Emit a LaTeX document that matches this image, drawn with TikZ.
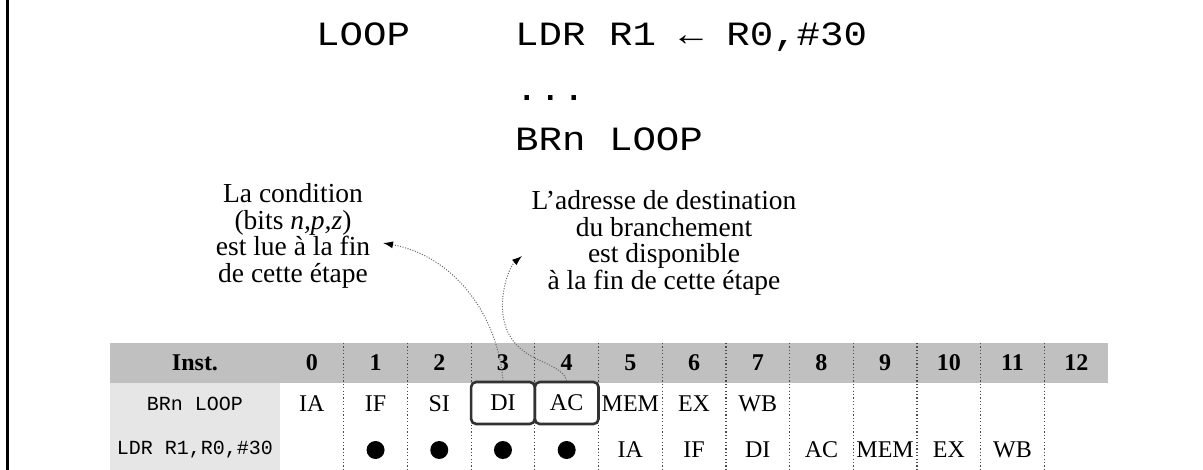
\documentclass[tikz,border=0pt]{standalone}
\usepackage{fontspec}
\setmainfont{Liberation Serif}
\newfontfamily\codefont[FakeStretch=1.15]{Liberation Mono}
\newfontfamily\smallcode{Liberation Mono}
\usetikzlibrary{arrows.meta}
\definecolor{hdrgray}{RGB}{192,192,192}
\definecolor{lblgray}{RGB}{230,230,230}
\definecolor{boxgray}{RGB}{50,50,50}
\newcommand\mynotefont{\fontsize{27.5}{26.7}\selectfont\setlength{\lineskiplimit}{-20pt}}
\tikzset{
  code/.style={anchor=base west,inner sep=0pt,font=\codefont\fontsize{34}{40}\selectfont},
  note/.style={align=center,inner sep=0pt,font=\mynotefont},
  hdr/.style={inner sep=0pt,font=\bfseries\fontsize{24}{26}\selectfont},
  cell/.style={inner sep=0pt,font=\fontsize{24}{26}\selectfont},
  lbl/.style={inner sep=0pt,font=\smallcode\fontsize{20}{22}\selectfont},
  stagebox/.style={draw=boxgray,line width=2.6pt,rounded corners=5pt,minimum width=63.7pt,minimum height=42pt,inner sep=0pt,font=\fontsize{24}{26}\selectfont},
  dotmark/.style={circle,fill=black,minimum size=18pt,inner sep=0pt},
  sepline/.style={black!70,line width=1.2pt,dash pattern=on 1.2pt off 2.2pt},
  curvearrow/.style={black!60,line width=1pt,dash pattern=on 1pt off 1.6pt,-{Latex[length=10pt,width=7pt,black]}}
}
\begin{document}
\begin{tikzpicture}[x=1pt,y=-1pt]
\useasboundingbox (0,0) rectangle (1203,470);
\fill[white] (0,0) rectangle (1203,470);
% left rule
\fill[black] (6,0) rectangle (8.5,470);
% code listing
\node[code] (lbl) at (316,46) {LOOP};
\node[code] (i1) at (515,46) {LDR R1 ← R0,\#30};
\node[code] (i2) at (515,101) {...};
\node[code] (i3) at (515,151) {BRn LOOP};
% notes
\node[note] (n1) at (293,236) {La condition\\(bits \textit{n,p,z})\\est lue à la fin\\de cette étape};
\node[note] (n2) at (664,243) {L’adresse de destination\\du branchement\\est disponible\\à la fin de cette étape};
% table backgrounds
\fill[hdrgray] (110,343) rectangle (1108,383);
\fill[lblgray] (110,383) rectangle (280,470);
% separators
\foreach \k in {1,...,12}
  \draw[sepline] ({280+63.7*\k},343) -- ({280+63.7*\k},470);
% header
\node[hdr] (hinst) at (195,363) {Inst.};
\foreach \k in {0,...,12}
  \node[hdr] (h\k) at ({280+63.7*(\k+0.5)},363) {\k};
% row labels
\node[lbl] (l1) at (195,404) {BRn LOOP};
\node[lbl] (l2) at (195,450) {LDR R1,R0,\#30};
% row 1
\node[cell] (a0) at ({280+63.7*0.5},404) {IA};
\node[cell] (a1) at ({280+63.7*1.5},404) {IF};
\node[cell] (a2) at ({280+63.7*2.5},404) {SI};
\node[stagebox] (a3) at ({280+63.7*3.5},403) {DI};
\node[stagebox] (a4) at ({280+63.7*4.5},403) {AC};
\node[cell] (a5) at ({280+63.7*5.5},404) {MEM};
\node[cell] (a6) at ({280+63.7*6.5},404) {EX};
\node[cell] (a7) at ({280+63.7*7.5},404) {WB};
% row 2
\foreach \k in {1,...,4}
  \node[dotmark] (d\k) at ({280+63.7*(\k+0.5)},450) {};
\node[cell] (b5) at ({280+63.7*5.5},450) {IA};
\node[cell] (b6) at ({280+63.7*6.5},450) {IF};
\node[cell] (b7) at ({280+63.7*7.5},450) {DI};
\node[cell] (b8) at ({280+63.7*8.5},450) {AC};
\node[cell] (b9) at ({280+63.7*9.5},450) {MEM};
\node[cell] (b10) at ({280+63.7*10.5},450) {EX};
\node[cell] (b11) at ({280+63.7*11.5},450) {WB};
% arrow end points
\coordinate (t1) at (383,243);
\coordinate (t2) at (522,256);
\draw[curvearrow] (a3.north) .. controls (497,310) and (450,255) .. (t1);
\draw[curvearrow] (a4.north) .. controls (560,358) and (510,365) .. (503,315)
   .. controls (500,290) and (510,266) .. (t2);
\end{tikzpicture}
\end{document}
